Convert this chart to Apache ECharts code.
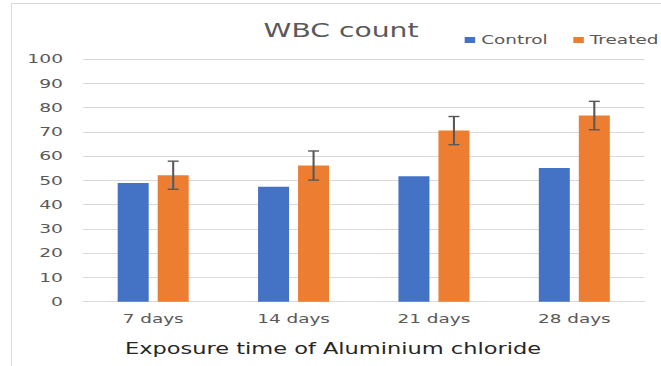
<!DOCTYPE html>
<html><head><meta charset="utf-8">
<script src="https://cdn.jsdelivr.net/npm/echarts@6/dist/echarts.min.js"></script>
<style>
html,body{margin:0;padding:0;background:#fff;overflow:hidden;}
#frame{position:absolute;left:11px;top:3px;width:660px;height:370px;border:1px solid #d9d9d9;box-sizing:border-box;}
#c{position:absolute;left:0;top:0;width:440.667px;height:366px;transform:scaleX(1.5);transform-origin:0 0;}
</style>
</head><body><div id="frame"></div><div id="c"></div>
<script>
const categories = ['7 days', '14 days', '21 days', '28 days'];
const controlValues = [48.9, 47.4, 51.7, 55.1];
const treatedValues = [52.1, 56.1, 70.5, 76.7];
const treatedErrors = [5.8, 6.0, 5.8, 5.85];
const yTicks = {min: 0, max: 100, interval: 10};

const S = 1.5; // horizontal stretch of the reference picture
const chart = echarts.init(document.getElementById('c'), null, {renderer: 'svg'});
const errData = treatedValues.map((v, i) => [i, v - treatedErrors[i], v + treatedErrors[i]]);
const font = 'DejaVu Sans';
const barW = 31 / S, gapPx = 9 / S;
chart.setOption({
  animation: false,
  title: {text: 'WBC count', left: 333.5 / S, top: 16, textAlign: 'center',
    textStyle: {fontFamily: font, fontSize: 18.8, fontWeight: 'normal', color: '#595959'}},
  legend: {right: 2, top: 34, padding: 0, itemWidth: 7, itemHeight: 6, itemGap: 17, icon: 'rect',
    textStyle: {fontFamily: font, fontSize: 12.3, color: '#595959', padding: [0, 0, 0, -1]},
    data: ['Control', 'Treated']},
  grid: {left: 83 / S, right: 17 / S, top: 59, bottom: 64.3},
  xAxis: {type: 'category', data: categories,
    name: 'Exposure time of Aluminium chloride', nameLocation: 'middle', nameGap: 40,
    nameTextStyle: {fontFamily: font, fontSize: 15, color: '#262626', padding: [0, 41, 0, 0]},
    axisLine: {lineStyle: {color: '#d9d9d9'}}, axisTick: {show: false},
    axisLabel: {fontFamily: font, fontSize: 12.3, color: '#595959', margin: 11}},
  yAxis: {type: 'value', min: yTicks.min, max: yTicks.max, interval: yTicks.interval,
    axisLine: {show: false}, axisTick: {show: false},
    axisLabel: {fontFamily: font, fontSize: 12.5, color: '#595959', margin: 13.3},
    splitLine: {lineStyle: {color: '#d9d9d9'}}},
  series: [
    {name: 'Control', type: 'bar', data: controlValues, barWidth: barW, barGap: (gapPx / barW * 100) + '%',
      itemStyle: {color: '#4472C4'}},
    {name: 'Treated', type: 'bar', data: treatedValues, barWidth: barW,
      itemStyle: {color: '#ED7D31'}},
    {name: 'err', type: 'custom', data: errData, z: 10,
      renderItem: function (params, api) {
        const lo = api.coord([api.value(0), api.value(1)]);
        const hi = api.coord([api.value(0), api.value(2)]);
        const x = lo[0] + gapPx / 2 + barW / 2;
        const cap = 5.5 / S;
        const st = {stroke: '#595959', lineWidth: 1.4};
        return {type: 'group', children: [
          {type: 'line', shape: {x1: x, y1: lo[1], x2: x, y2: hi[1]}, style: st},
          {type: 'line', shape: {x1: x - cap, y1: lo[1], x2: x + cap, y2: lo[1]}, style: st},
          {type: 'line', shape: {x1: x - cap, y1: hi[1], x2: x + cap, y2: hi[1]}, style: st}
        ]};
      }}
  ]
});
</script></body></html>
